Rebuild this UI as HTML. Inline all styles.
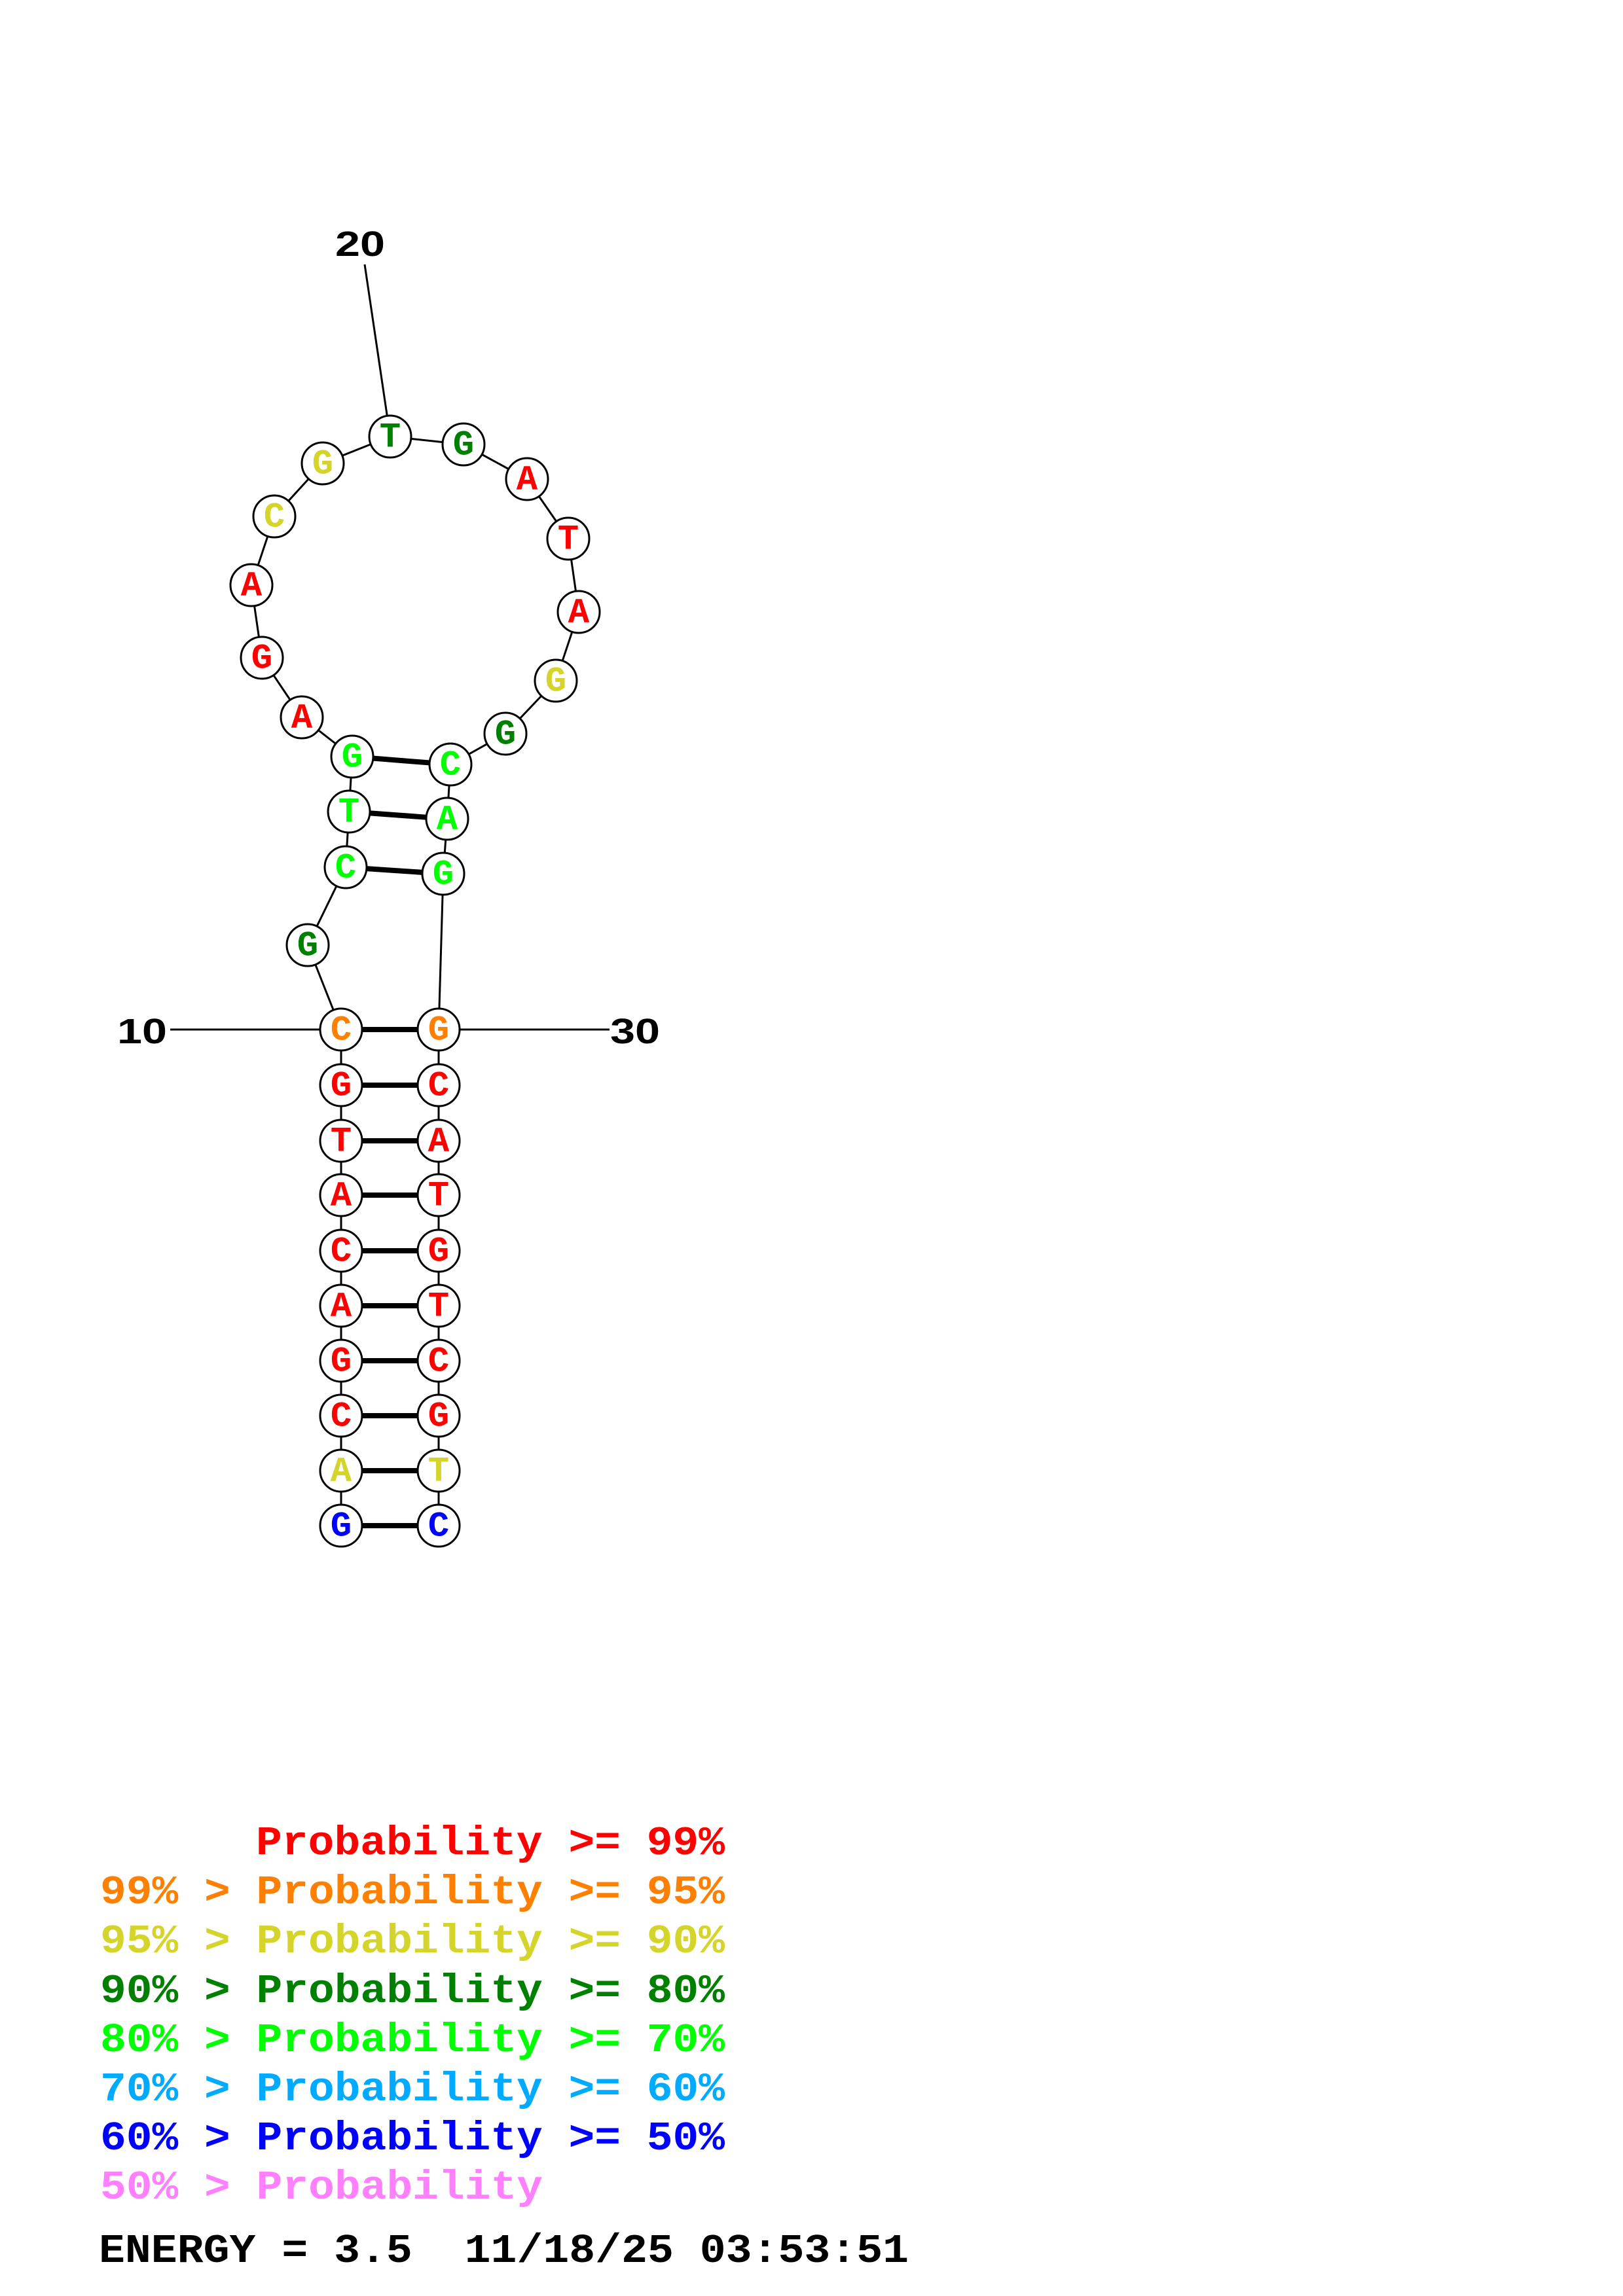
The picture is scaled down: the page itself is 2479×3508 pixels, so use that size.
<!DOCTYPE html>
<html><head><meta charset="utf-8"><style>html,body{margin:0;padding:0;background:#fff}svg{display:block}text{white-space:pre}</style></head>
<body>
<svg width="2479" height="3508" viewBox="0 0 2479 3508" xmlns="http://www.w3.org/2000/svg">
<g stroke="#000" stroke-width="3" fill="none">
<line x1="260" y1="1573" x2="521" y2="1573"/>
<line x1="670" y1="1573" x2="931" y2="1573"/>
<line x1="557" y1="404" x2="596" y2="667"/>
<polyline points="521,2331 521,1573 470,1444 528,1325 533,1240 538,1156 461,1096 400,1005 384,894 419,789 493,708 596,667 708,679 805,732 868,823 884,935 849,1040 772,1121 688,1168 683,1251 677,1335 670,1573 670,2331"/>
</g>
<g stroke="#000" stroke-width="8">
<line x1="538" y1="1156" x2="688" y2="1168"/>
<line x1="533" y1="1240" x2="683" y2="1251"/>
<line x1="528" y1="1325" x2="677" y2="1335"/>
<line x1="521" y1="1573" x2="670" y2="1573"/>
<line x1="521" y1="1658" x2="670" y2="1658"/>
<line x1="521" y1="1743" x2="670" y2="1743"/>
<line x1="521" y1="1826" x2="670" y2="1826"/>
<line x1="521" y1="1911" x2="670" y2="1911"/>
<line x1="521" y1="1995" x2="670" y2="1995"/>
<line x1="521" y1="2079" x2="670" y2="2079"/>
<line x1="521" y1="2163" x2="670" y2="2163"/>
<line x1="521" y1="2247" x2="670" y2="2247"/>
<line x1="521" y1="2331" x2="670" y2="2331"/>
</g>
<g stroke="#000" stroke-width="3" fill="#fff">
<circle cx="521" cy="2331" r="32"/><circle cx="521" cy="2247" r="32"/><circle cx="521" cy="2163" r="32"/><circle cx="521" cy="2079" r="32"/><circle cx="521" cy="1995" r="32"/><circle cx="521" cy="1911" r="32"/><circle cx="521" cy="1826" r="32"/><circle cx="521" cy="1743" r="32"/><circle cx="521" cy="1658" r="32"/><circle cx="521" cy="1573" r="32"/>
<circle cx="470" cy="1444" r="32"/><circle cx="528" cy="1325" r="32"/><circle cx="533" cy="1240" r="32"/><circle cx="538" cy="1156" r="32"/><circle cx="461" cy="1096" r="32"/><circle cx="400" cy="1005" r="32"/><circle cx="384" cy="894" r="32"/><circle cx="419" cy="789" r="32"/><circle cx="493" cy="708" r="32"/><circle cx="596" cy="667" r="32"/><circle cx="708" cy="679" r="32"/><circle cx="805" cy="732" r="32"/><circle cx="868" cy="823" r="32"/><circle cx="884" cy="935" r="32"/><circle cx="849" cy="1040" r="32"/><circle cx="772" cy="1121" r="32"/><circle cx="688" cy="1168" r="32"/><circle cx="683" cy="1251" r="32"/><circle cx="677" cy="1335" r="32"/>
<circle cx="670" cy="1573" r="32"/><circle cx="670" cy="1658" r="32"/><circle cx="670" cy="1743" r="32"/><circle cx="670" cy="1826" r="32"/><circle cx="670" cy="1911" r="32"/><circle cx="670" cy="1995" r="32"/><circle cx="670" cy="2079" r="32"/><circle cx="670" cy="2163" r="32"/><circle cx="670" cy="2247" r="32"/><circle cx="670" cy="2331" r="32"/>
</g>
<g font-family="'Liberation Mono', monospace" font-weight="bold" font-size="54" text-anchor="middle" dominant-baseline="central">
<text x="521" y="2333" fill="#0000ff">G</text><text x="521" y="2249" fill="#d4d42a">A</text><text x="521" y="2165" fill="#ff0000">C</text><text x="521" y="2081" fill="#ff0000">G</text><text x="521" y="1997" fill="#ff0000">A</text><text x="521" y="1913" fill="#ff0000">C</text><text x="521" y="1828" fill="#ff0000">A</text><text x="521" y="1745" fill="#ff0000">T</text><text x="521" y="1660" fill="#ff0000">G</text><text x="521" y="1575" fill="#ff8000">C</text>
<text x="470" y="1446" fill="#008000">G</text><text x="528" y="1327" fill="#00ff00">C</text><text x="533" y="1242" fill="#00ff00">T</text><text x="538" y="1158" fill="#00ff00">G</text><text x="461" y="1098" fill="#ff0000">A</text><text x="400" y="1007" fill="#ff0000">G</text><text x="384" y="896" fill="#ff0000">A</text><text x="419" y="791" fill="#d4d42a">C</text><text x="493" y="710" fill="#d4d42a">G</text><text x="596" y="669" fill="#008000">T</text><text x="708" y="681" fill="#008000">G</text><text x="805" y="734" fill="#ff0000">A</text><text x="868" y="825" fill="#ff0000">T</text><text x="884" y="937" fill="#ff0000">A</text><text x="849" y="1042" fill="#d4d42a">G</text><text x="772" y="1123" fill="#008000">G</text><text x="688" y="1170" fill="#00ff00">C</text><text x="683" y="1253" fill="#00ff00">A</text><text x="677" y="1337" fill="#00ff00">G</text>
<text x="670" y="1575" fill="#ff8000">G</text><text x="670" y="1660" fill="#ff0000">C</text><text x="670" y="1745" fill="#ff0000">A</text><text x="670" y="1828" fill="#ff0000">T</text><text x="670" y="1913" fill="#ff0000">G</text><text x="670" y="1997" fill="#ff0000">T</text><text x="670" y="2081" fill="#ff0000">C</text><text x="670" y="2165" fill="#ff0000">G</text><text x="670" y="2249" fill="#d4d42a">T</text><text x="670" y="2333" fill="#0000ff">C</text>
</g>
<g font-family="'Liberation Sans', sans-serif" font-weight="bold" font-size="54" text-anchor="middle" fill="#000">
<text x="217" y="1594" textLength="76" lengthAdjust="spacingAndGlyphs">10</text>
<text x="550" y="391" textLength="76" lengthAdjust="spacingAndGlyphs">20</text>
<text x="970" y="1594" textLength="76" lengthAdjust="spacingAndGlyphs">30</text>
</g>
<g font-family="'Liberation Mono', monospace" font-weight="bold" font-size="62">
<text x="391" y="2833" fill="#ff0000" textLength="716" lengthAdjust="spacingAndGlyphs">Probability &gt;= 99%</text>
<text x="153" y="2908" fill="#ff8000" textLength="954" lengthAdjust="spacingAndGlyphs">99% &gt; Probability &gt;= 95%</text>
<text x="153" y="2983" fill="#d4d42a" textLength="954" lengthAdjust="spacingAndGlyphs">95% &gt; Probability &gt;= 90%</text>
<text x="153" y="3059" fill="#008000" textLength="954" lengthAdjust="spacingAndGlyphs">90% &gt; Probability &gt;= 80%</text>
<text x="153" y="3134" fill="#00ff00" textLength="954" lengthAdjust="spacingAndGlyphs">80% &gt; Probability &gt;= 70%</text>
<text x="153" y="3209" fill="#00aaff" textLength="954" lengthAdjust="spacingAndGlyphs">70% &gt; Probability &gt;= 60%</text>
<text x="153" y="3284" fill="#0000ff" textLength="954" lengthAdjust="spacingAndGlyphs">60% &gt; Probability &gt;= 50%</text>
<text x="153" y="3359" fill="#ff80ff" textLength="676" lengthAdjust="spacingAndGlyphs">50% &gt; Probability</text>
<text x="151" y="3456" fill="#000" textLength="1237" lengthAdjust="spacingAndGlyphs">ENERGY = 3.5  11/18/25 03:53:51</text>
</g>
</svg>
</body></html>
